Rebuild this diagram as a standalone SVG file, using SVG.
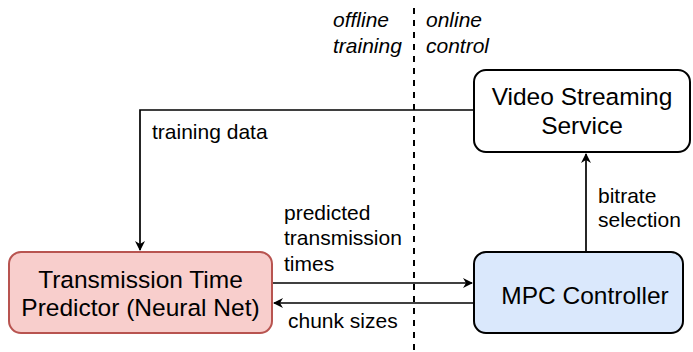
<svg xmlns="http://www.w3.org/2000/svg" width="693" height="352" viewBox="0 0 693 352">
<style>
text{font-family:"Liberation Sans",Arial,sans-serif;fill:#000}
.big{font-size:24.5px;text-anchor:middle}
.lbl{font-size:21px}
.it{font-size:21px;font-style:italic}
.box{stroke-width:2}
.edge{fill:none;stroke:#000;stroke-width:1.7}
</style>
<defs>
<marker id="ah" viewBox="0 0 10 10" refX="9" refY="5" markerWidth="10" markerHeight="10" markerUnits="userSpaceOnUse" orient="auto">
<path d="M0,0 L10,5 L0,10 L3,5 Z" fill="#000"/>
</marker>
</defs>
<line x1="414" y1="8" x2="414" y2="352" stroke="#000" stroke-width="2" stroke-dasharray="6,6"/>
<text class="it" x="333" y="27">offline</text>
<text class="it" x="333" y="53">training</text>
<text class="it" x="426" y="27">online</text>
<text class="it" x="426" y="53">control</text>
<g id="connectors">
<path class="edge" d="M474,110 H140 V250" marker-end="url(#ah)"/>
<path class="edge" d="M272,283 H472" marker-end="url(#ah)"/>
<path class="edge" d="M474,303 H274" marker-end="url(#ah)"/>
<path class="edge" d="M586,252 V154" marker-end="url(#ah)"/>
<text class="lbl" x="152" y="139">training data</text>
<text class="lbl" x="284" y="220">predicted</text>
<text class="lbl" x="284" y="245">transmission</text>
<text class="lbl" x="284" y="271">times</text>
<text class="lbl" x="288" y="328">chunk sizes</text>
<text class="lbl" x="598" y="203">bitrate</text>
<text class="lbl" x="598" y="227">selection</text>
</g>
<g id="predictor">
<rect class="box" x="9" y="252" width="263" height="81" rx="12" fill="#f8cecc" stroke="#b85450"/>
<text class="big" x="140.5" y="288">Transmission Time</text>
<text class="big" x="140.5" y="316">Predictor (Neural Net)</text>
</g>
<g id="mpc">
<rect class="box" x="474" y="252" width="209" height="81" rx="12" fill="#dae8fc" stroke="#000"/>
<text class="big" x="585" y="304">MPC Controller</text>
</g>
<g id="video">
<rect class="box" x="474" y="70" width="216" height="82" rx="12" fill="#fff" stroke="#000"/>
<text class="big" x="582" y="105">Video Streaming</text>
<text class="big" x="582" y="134">Service</text>
</g>
</svg>
